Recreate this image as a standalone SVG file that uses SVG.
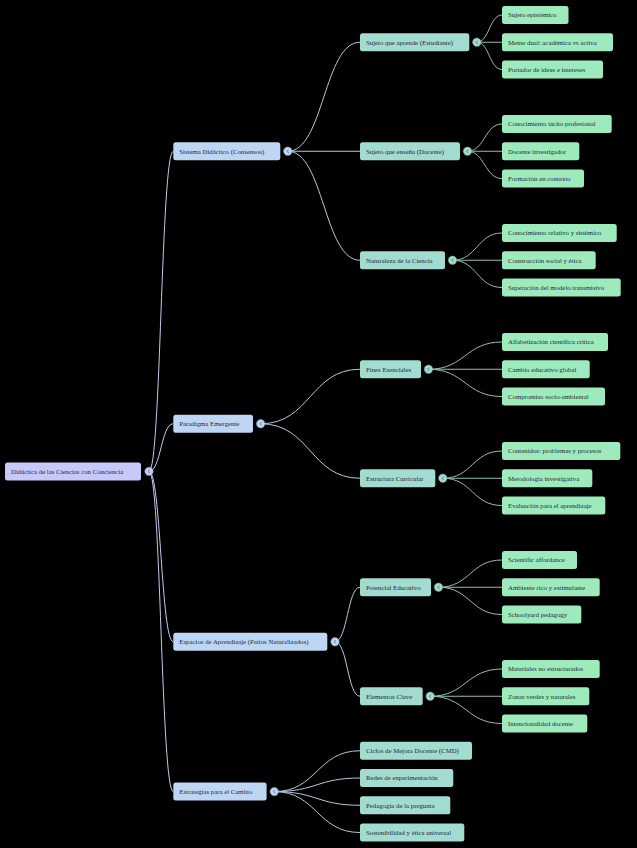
<svg xmlns="http://www.w3.org/2000/svg" width="637" height="848" viewBox="0 0 637 848">
<style>
text{font-family:"Liberation Serif","Times New Roman",serif;font-size:6.8px;fill:#1e2a3a}
.n0{fill:#c7c9fb}
.n1{fill:#bed6f3}
.n2{fill:#a2dbcf}
.n3{fill:#9debbd}
.e0{fill:none;stroke:#c4cbf0;stroke-width:1}
.e1{fill:none;stroke:#b6c9dc;stroke-width:1}
.e2{fill:none;stroke:#93bfae;stroke-width:1}
.t0{fill:#c7c9fb;stroke:#8e93c8;stroke-width:0.5}
.t1{fill:#bed6f3;stroke:#8aa3c0;stroke-width:0.5}
.t2{fill:#a2dbcf;stroke:#6f9f95;stroke-width:0.5}
.ch{fill:none;stroke:#4a5568;stroke-width:0.6}
</style>
<rect width="637" height="848" fill="#000"/>
<g id="connectors">
<path class="e0" d="M149,471.4 C161,471.4 161,151.25 173.3,151.25"/>
<path class="e0" d="M149,471.4 C161,471.4 161,423.75 173.3,423.75"/>
<path class="e0" d="M149,471.4 C161,471.4 161,641.75 173.3,641.75"/>
<path class="e0" d="M149,471.4 C161,471.4 161,791.6 173.3,791.6"/>
<path class="e1" d="M287.8,151.25 C323.9,151.25 323.9,42.25 360,42.25"/>
<path class="e1" d="M287.8,151.25 L360,151.25"/>
<path class="e1" d="M287.8,151.25 C323.9,151.25 323.9,260.25 360,260.25"/>
<path class="e1" d="M260.7,423.75 C310.35,423.75 310.35,369.25 360,369.25"/>
<path class="e1" d="M260.7,423.75 C310.35,423.75 310.35,478.25 360,478.25"/>
<path class="e1" d="M335,641.75 C347.5,641.75 347.5,587.25 360,587.25"/>
<path class="e1" d="M335,641.75 C347.5,641.75 347.5,696.25 360,696.25"/>
<path class="e1" d="M274.3,791.6 C317,791.6 317,750.75 360,750.75"/>
<path class="e1" d="M274.3,791.6 C317,791.6 317,778 360,778"/>
<path class="e1" d="M274.3,791.6 C317,791.6 317,805.25 360,805.25"/>
<path class="e1" d="M274.3,791.6 C317,791.6 317,832.5 360,832.5"/>
<path class="e2" d="M476.8,42.25 C489.4,42.25 489.4,15 502,15"/>
<path class="e2" d="M476.8,42.25 L502,42.25"/>
<path class="e2" d="M476.8,42.25 C489.4,42.25 489.4,69.5 502,69.5"/>
<path class="e2" d="M467.5,151.25 C484.75,151.25 484.75,124 502,124"/>
<path class="e2" d="M467.5,151.25 L502,151.25"/>
<path class="e2" d="M467.5,151.25 C484.75,151.25 484.75,178.5 502,178.5"/>
<path class="e2" d="M452.5,260.25 C477.25,260.25 477.25,233 502,233"/>
<path class="e2" d="M452.5,260.25 L502,260.25"/>
<path class="e2" d="M452.5,260.25 C477.25,260.25 477.25,287.5 502,287.5"/>
<path class="e2" d="M428.5,369.25 C465.25,369.25 465.25,342 502,342"/>
<path class="e2" d="M428.5,369.25 L502,369.25"/>
<path class="e2" d="M428.5,369.25 C465.25,369.25 465.25,396.5 502,396.5"/>
<path class="e2" d="M442.8,478.25 C472.4,478.25 472.4,451 502,451"/>
<path class="e2" d="M442.8,478.25 L502,478.25"/>
<path class="e2" d="M442.8,478.25 C472.4,478.25 472.4,505.5 502,505.5"/>
<path class="e2" d="M438.5,587.25 C470.25,587.25 470.25,560 502,560"/>
<path class="e2" d="M438.5,587.25 L502,587.25"/>
<path class="e2" d="M438.5,587.25 C470.25,587.25 470.25,614.5 502,614.5"/>
<path class="e2" d="M430.2,696.25 C466.1,696.25 466.1,669 502,669"/>
<path class="e2" d="M430.2,696.25 L502,696.25"/>
<path class="e2" d="M430.2,696.25 C466.1,696.25 466.1,723.5 502,723.5"/>
</g>

<g id="root">
<rect class="n0" x="5" y="462.4" width="136" height="18" rx="2.5"/>
<text x="11" y="473.8">Didáctica de las Ciencias con Conciencia</text>
<circle class="t0" cx="149" cy="471.4" r="4.2"/>
<path class="ch" d="M150,469.9 L148,471.4 L150,472.9"/>
</g>

<g id="n-sistema">
<rect class="n1" x="173.3" y="142.25" width="107" height="18" rx="2.5"/>
<text x="179.3" y="153.65">Sistema Didáctico (Consensos)</text>
<circle class="t1" cx="287.8" cy="151.25" r="4.2"/>
<path class="ch" d="M288.8,149.75 L286.8,151.25 L288.8,152.75"/>
</g>
<g id="n-paradigma">
<rect class="n1" x="173.3" y="414.75" width="79.7" height="18" rx="2.5"/>
<text x="179.3" y="426.15">Paradigma Emergente</text>
<circle class="t1" cx="260.7" cy="423.75" r="4.2"/>
<path class="ch" d="M261.7,422.25 L259.7,423.75 L261.7,425.25"/>
</g>
<g id="n-espacios">
<rect class="n1" x="173.3" y="632.75" width="154" height="18" rx="2.5"/>
<text x="179.3" y="644.15">Espacios de Aprendizaje (Patios Naturalizados)</text>
<circle class="t1" cx="335" cy="641.75" r="4.2"/>
<path class="ch" d="M336,640.25 L334,641.75 L336,643.25"/>
</g>
<g id="n-estrategias">
<rect class="n1" x="173.3" y="782.6" width="93.3" height="18" rx="2.5"/>
<text x="179.3" y="794">Estrategias para el Cambio</text>
<circle class="t1" cx="274.3" cy="791.6" r="4.2"/>
<path class="ch" d="M275.3,790.1 L273.3,791.6 L275.3,793.1"/>
</g>

<g id="n-aprende">
<rect class="n2" x="360" y="33.25" width="109.3" height="18" rx="2.5"/>
<text x="366" y="44.65">Sujeto que aprende (Estudiante)</text>
<circle class="t2" cx="476.8" cy="42.25" r="4.2"/>
<path class="ch" d="M477.8,40.75 L475.8,42.25 L477.8,43.75"/>
</g>
<g id="n-ensena">
<rect class="n2" x="360" y="142.25" width="100" height="18" rx="2.5"/>
<text x="366" y="153.65">Sujeto que enseña (Docente)</text>
<circle class="t2" cx="467.5" cy="151.25" r="4.2"/>
<path class="ch" d="M468.5,149.75 L466.5,151.25 L468.5,152.75"/>
</g>
<g id="n-naturaleza">
<rect class="n2" x="360" y="251.25" width="85" height="18" rx="2.5"/>
<text x="366" y="262.65">Naturaleza de la Ciencia</text>
<circle class="t2" cx="452.5" cy="260.25" r="4.2"/>
<path class="ch" d="M453.5,258.75 L451.5,260.25 L453.5,261.75"/>
</g>
<g id="n-fines">
<rect class="n2" x="360" y="360.25" width="61" height="18" rx="2.5"/>
<text x="366" y="371.65">Fines Esenciales</text>
<circle class="t2" cx="428.5" cy="369.25" r="4.2"/>
<path class="ch" d="M429.5,367.75 L427.5,369.25 L429.5,370.75"/>
</g>
<g id="n-estructura">
<rect class="n2" x="360" y="469.25" width="75.3" height="18" rx="2.5"/>
<text x="366" y="480.65">Estructura Curricular</text>
<circle class="t2" cx="442.8" cy="478.25" r="4.2"/>
<path class="ch" d="M443.8,476.75 L441.8,478.25 L443.8,479.75"/>
</g>
<g id="n-potencial">
<rect class="n2" x="360" y="578.25" width="71" height="18" rx="2.5"/>
<text x="366" y="589.65">Potencial Educativo</text>
<circle class="t2" cx="438.5" cy="587.25" r="4.2"/>
<path class="ch" d="M439.5,585.75 L437.5,587.25 L439.5,588.75"/>
</g>
<g id="n-elementos">
<rect class="n2" x="360" y="687.25" width="62.7" height="18" rx="2.5"/>
<text x="366" y="698.65">Elementos Clave</text>
<circle class="t2" cx="430.2" cy="696.25" r="4.2"/>
<path class="ch" d="M431.2,694.75 L429.2,696.25 L431.2,697.75"/>
</g>
<g id="n-ciclos">
<rect class="n2" x="360" y="741.75" width="112" height="18" rx="2.5"/>
<text x="366" y="753.15">Ciclos de Mejora Docente (CMD)</text>
</g>
<g id="n-redes">
<rect class="n2" x="360" y="769" width="93.3" height="18" rx="2.5"/>
<text x="366" y="780.4">Redes de experimentación</text>
</g>
<g id="n-pedagogia">
<rect class="n2" x="360" y="796.25" width="90.3" height="18" rx="2.5"/>
<text x="366" y="807.65">Pedagogía de la pregunta</text>
</g>
<g id="n-sostenibilidad">
<rect class="n2" x="360" y="823.5" width="104.3" height="18" rx="2.5"/>
<text x="366" y="834.9">Sostenibilidad y ética universal</text>
</g>

<g id="l-epistemico"><rect class="n3" x="502" y="6" width="66.5" height="18" rx="2.5"/><text x="508" y="17.4">Sujeto epistémico</text></g>
<g id="l-mente"><rect class="n3" x="502" y="33.25" width="111" height="18" rx="2.5"/><text x="508" y="44.65">Mente dual: académica vs activa</text></g>
<g id="l-portador"><rect class="n3" x="502" y="60.5" width="101" height="18" rx="2.5"/><text x="508" y="71.9">Portador de ideas e intereses</text></g>
<g id="l-tacito"><rect class="n3" x="502" y="115" width="109.7" height="18" rx="2.5"/><text x="508" y="126.4">Conocimiento tácito profesional</text></g>
<g id="l-investigador"><rect class="n3" x="502" y="142.25" width="77.3" height="18" rx="2.5"/><text x="508" y="153.65">Docente investigador</text></g>
<g id="l-formacion"><rect class="n3" x="502" y="169.5" width="82" height="18" rx="2.5"/><text x="508" y="180.9">Formación en contexto</text></g>
<g id="l-relativo"><rect class="n3" x="502" y="224" width="114.7" height="18" rx="2.5"/><text x="508" y="235.4">Conocimiento relativo y sistémico</text></g>
<g id="l-construccion"><rect class="n3" x="502" y="251.25" width="93.7" height="18" rx="2.5"/><text x="508" y="262.65">Construcción social y ética</text></g>
<g id="l-superacion"><rect class="n3" x="502" y="278.5" width="118.7" height="18" rx="2.5"/><text x="508" y="289.9">Superación del modelo transmisivo</text></g>
<g id="l-alfabetizacion"><rect class="n3" x="502" y="333" width="106" height="18" rx="2.5"/><text x="508" y="344.4">Alfabetización científica crítica</text></g>
<g id="l-cambio"><rect class="n3" x="502" y="360.25" width="87.7" height="18" rx="2.5"/><text x="508" y="371.65">Cambio educativo global</text></g>
<g id="l-compromiso"><rect class="n3" x="502" y="387.5" width="103" height="18" rx="2.5"/><text x="508" y="398.9">Compromiso socio-ambiental</text></g>
<g id="l-contenidos"><rect class="n3" x="502" y="442" width="118.3" height="18" rx="2.5"/><text x="508" y="453.4">Contenidos: problemas y procesos</text></g>
<g id="l-metodologia"><rect class="n3" x="502" y="469.25" width="90.3" height="18" rx="2.5"/><text x="508" y="480.65">Metodología investigativa</text></g>
<g id="l-evaluacion"><rect class="n3" x="502" y="496.5" width="103.3" height="18" rx="2.5"/><text x="508" y="507.9">Evaluación para el aprendizaje</text></g>
<g id="l-affordance"><rect class="n3" x="502" y="551" width="75" height="18" rx="2.5"/><text x="508" y="562.4">Scientific affordance</text></g>
<g id="l-ambiente"><rect class="n3" x="502" y="578.25" width="97.7" height="18" rx="2.5"/><text x="508" y="589.65">Ambiente rico y estimulante</text></g>
<g id="l-schoolyard"><rect class="n3" x="502" y="605.5" width="79.3" height="18" rx="2.5"/><text x="508" y="616.9">Schoolyard pedagogy</text></g>
<g id="l-materiales"><rect class="n3" x="502" y="660" width="97.7" height="18" rx="2.5"/><text x="508" y="671.4">Materiales no estructurados</text></g>
<g id="l-zonas"><rect class="n3" x="502" y="687.25" width="87.3" height="18" rx="2.5"/><text x="508" y="698.65">Zonas verdes y naturales</text></g>
<g id="l-intencionalidad"><rect class="n3" x="502" y="714.5" width="85.3" height="18" rx="2.5"/><text x="508" y="725.9">Intencionalidad docente</text></g>
</svg>
